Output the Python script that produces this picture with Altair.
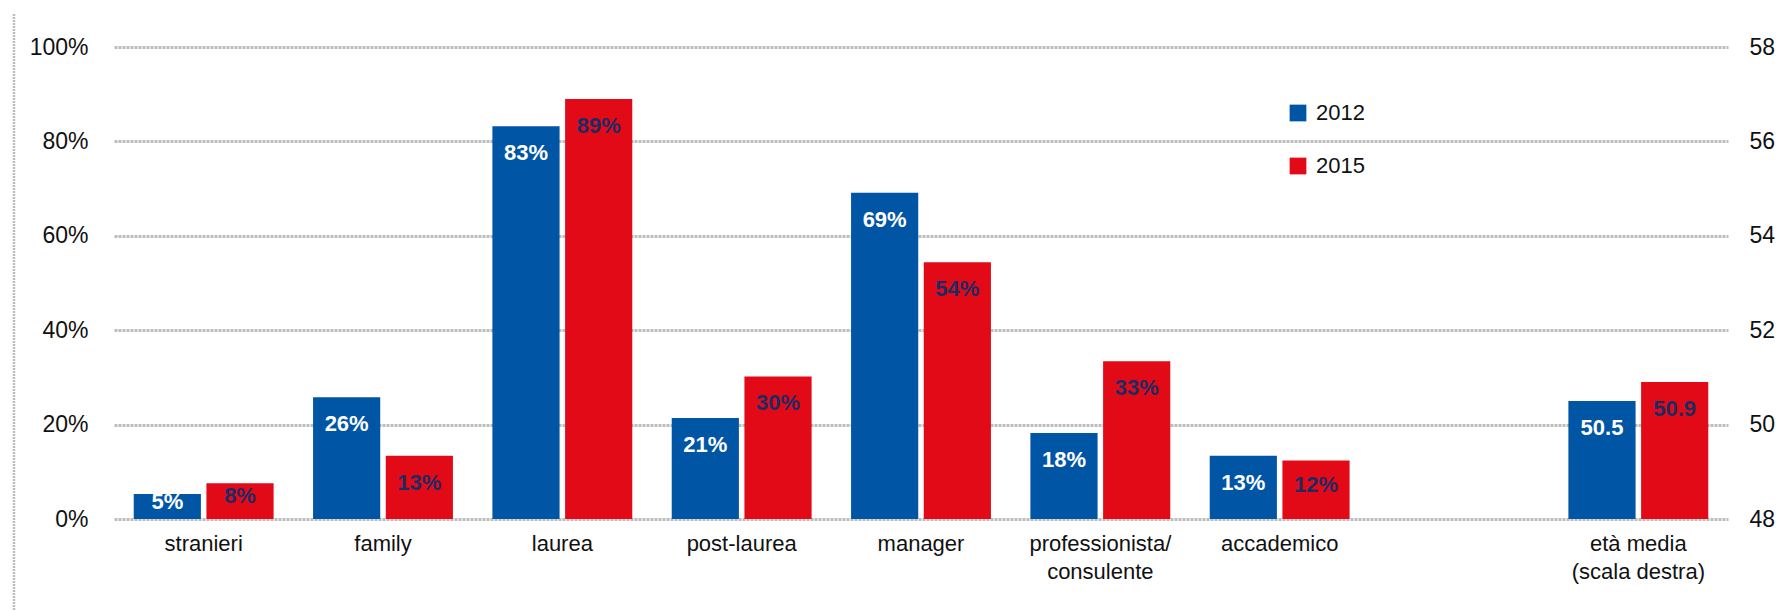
import altair as alt
import pandas as pd

# ---- data ----
categories = ["stranieri", "family", "laurea", "post-laurea", "manager",
              "professionista/consulente", "accademico", "età media (scala destra)"]
pct_categories = categories[:7]
age_category = categories[7]
years = ["2012", "2015"]
pct_2012 = [5.3, 25.8, 83.2, 21.4, 69.1, 18.2, 13.4]
pct_2015 = [7.6, 13.4, 89.0, 30.2, 54.4, 33.4, 12.4]
age_2012 = 50.5
age_2015 = 50.9
spacer = " "
x_domain = pct_categories + [spacer, age_category]
pct_ticks = [0, 20, 40, 60, 80, 100]
age_ticks = [48, 50, 52, 54, 56, 58]

pct_df = pd.DataFrame({
    "category": pct_categories * 2,
    "year": [years[0]] * len(pct_categories) + [years[1]] * len(pct_categories),
    "value": pct_2012 + pct_2015,
})
age_df = pd.DataFrame({
    "category": [age_category, age_category],
    "year": years,
    "value": [age_2012, age_2015],
})

FONT = "Liberation Sans"
BLUE = "#0055a5"
RED = "#e30a17"
NAVY = "#1d2b63"
GRID = "#bdbdbd"
INK = "#111111"

label_expr = ("datum.label == 'professionista/consulente' ? ['professionista/', 'consulente'] : "
              "datum.label == 'età media (scala destra)' ? ['età media', '(scala destra)'] : datum.label")

x_enc = alt.X("category:N",
              scale=alt.Scale(domain=x_domain, paddingInner=0.22, paddingOuter=0.11),
              axis=alt.Axis(title=None, labelAngle=0, domain=False, ticks=False,
                            labelFontSize=22, labelPadding=14, labelColor=INK,
                            labelLineHeight=28, labelFont=FONT, labelExpr=label_expr))
xoff_enc = alt.XOffset("year:N", scale=alt.Scale(domain=years, paddingInner=0.076, paddingOuter=0))
color_enc = alt.Color("year:N",
                      scale=alt.Scale(domain=years, range=[BLUE, RED]),
                      legend=alt.Legend(title=None, orient="none", legendX=1173, legendY=55,
                                        symbolType="square", symbolSize=280, symbolStrokeWidth=0,
                                        labelFontSize=22, labelOffset=7, rowPadding=31,
                                        labelFont=FONT, labelColor=INK))
text_color = alt.condition("datum.year == '2012'", alt.value("white"), alt.value(NAVY))

pct_axis = alt.Axis(title=None, orient="left", values=pct_ticks, labelExpr="datum.value + '%'",
                    domain=False, ticks=False, labelPadding=26, labelFontSize=23,
                    labelFont=FONT, labelColor=INK,
                    grid=True, gridColor=GRID, gridDash=[3, 1], gridWidth=3)
pct_scale = alt.Scale(domain=[0, 100], nice=False)

pct_bars = alt.Chart(pct_df).mark_bar().encode(
    x=x_enc, xOffset=xoff_enc, color=color_enc,
    y=alt.Y("value:Q", scale=pct_scale, axis=pct_axis),
)
pct_text = alt.Chart(pct_df).transform_calculate(
    ly="max(datum.value - 5.72, datum.value / 2 + 1)",
    txt="format(datum.value, '.0f') + '%'",
).mark_text(font=FONT, fontSize=22, fontWeight="bold", baseline="middle", align="center").encode(
    x=x_enc, xOffset=xoff_enc,
    y=alt.Y("ly:Q", scale=pct_scale, axis=pct_axis),
    text="txt:N", color=text_color,
)

age_scale = alt.Scale(domain=[48, 58], nice=False, zero=False)
age_axis = alt.Axis(title=None, orient="right", values=age_ticks, domain=False, ticks=False,
                    labelPadding=21, labelFontSize=23, labelFont=FONT, labelColor=INK,
                    grid=False)
age_bars = alt.Chart(age_df).mark_bar(clip=True).encode(
    x=x_enc, xOffset=xoff_enc, color=color_enc,
    y=alt.Y("value:Q", scale=age_scale, axis=age_axis),
)
age_text = alt.Chart(age_df).transform_calculate(
    txt="format(datum.value, '.1f')",
).mark_text(font=FONT, fontSize=22, fontWeight="bold", baseline="middle", align="center", dy=27).encode(
    x=x_enc, xOffset=xoff_enc,
    y=alt.Y("value:Q", scale=age_scale, axis=age_axis),
    text="txt:N", color=text_color,
)

frame_line = alt.Chart(pd.DataFrame({"f": [0]})).mark_rule(
    color=GRID, strokeDash=[2, 1], strokeWidth=2.5
).encode(x=alt.value(-100), y=alt.value(-33), y2=alt.value(564))

chart = alt.layer(
    frame_line,
    alt.layer(pct_bars, pct_text),
    alt.layer(age_bars, age_text),
).resolve_scale(y="independent").properties(
    width=1614, height=472,
    padding={"left": 114, "top": 47, "right": 48, "bottom": 92},
    autosize="none",
    background="white",
).configure_view(stroke=None)

chart.save("out.html", embed_options={"renderer": "svg", "actions": False})
